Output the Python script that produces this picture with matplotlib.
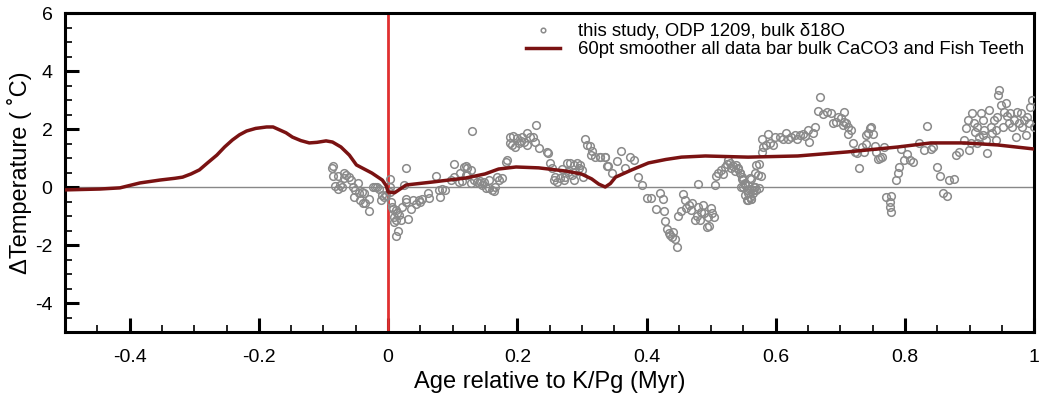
import matplotlib.pyplot as plt
from matplotlib.ticker import MultipleLocator, FuncFormatter

plt.rcParams['font.family'] = ['Liberation Sans', 'DejaVu Sans']
plt.rcParams['axes.unicode_minus'] = False

# bulk d18O based temperature anomaly, ODP 1209
age_pts = [
    -0.085, -0.087, -0.086, -0.078, -0.069, -0.065, -0.061, -0.058, -0.068, -0.082,
    -0.078, -0.075, -0.071, -0.055, -0.051, -0.047, -0.052, -0.045, -0.041, -0.037,
    -0.044, -0.036, -0.030, -0.029, -0.039, -0.024, -0.020, -0.017, -0.014, -0.009,
    -0.011, -0.006, -0.004, 0.003, 0.003, 0.003,
    0.004, 0.006, 0.008, 0.012, 0.014, 0.009, 0.017, 0.012, 0.020, 0.009,
    0.016, 0.013, 0.022, 0.027, 0.028, 0.035, 0.039, 0.043, 0.048, 0.050,
    0.053, 0.061, 0.063, 0.031, 0.025, 0.028, 0.074, 0.079, 0.084, 0.088,
    0.081, 0.102, 0.120, 0.122, 0.115, 0.102, 0.097,
    0.130, 0.229, 0.188, 0.194, 0.200, 0.205, 0.192, 0.202, 0.210, 0.215,
    0.220, 0.225, 0.228, 0.215, 0.233, 0.197, 0.207, 0.189, 0.246, 0.248,
    0.184, 0.182, 0.251, 0.254, 0.269, 0.277, 0.282, 0.287, 0.292, 0.297,
    0.295, 0.300, 0.290, 0.279, 0.284, 0.274, 0.266, 0.259, 0.256, 0.261,
    0.272, 0.287, 0.302, 0.305, 0.308, 0.313, 0.315, 0.314, 0.320, 0.328,
    0.335, 0.338, 0.117, 0.122, 0.128, 0.112, 0.120, 0.133, 0.138, 0.143,
    0.148, 0.156, 0.140, 0.146, 0.151, 0.156, 0.161, 0.164, 0.166, 0.128,
    0.110, 0.169, 0.171, 0.176,
    0.328, 0.335, 0.341, 0.347, 0.354, 0.361, 0.367, 0.375, 0.380, 0.387,
    0.393, 0.400, 0.407, 0.414, 0.421, 0.425, 0.427, 0.429, 0.431, 0.434,
    0.436, 0.440, 0.444, 0.441, 0.447, 0.449, 0.453, 0.457, 0.460, 0.461,
    0.465, 0.469, 0.470, 0.475, 0.478, 0.483, 0.480, 0.488, 0.489, 0.485,
    0.493, 0.496, 0.495, 0.500, 0.502, 0.504, 0.480, 0.506, 0.508, 0.511,
    0.515, 0.519, 0.521, 0.524, 0.526, 0.529, 0.531, 0.534, 0.537, 0.539,
    0.542, 0.544, 0.547, 0.552, 0.555, 0.560, 0.562, 0.565, 0.568, 0.570,
    0.568, 0.557, 0.561, 0.552, 0.549,
    0.542, 0.544, 0.547, 0.549, 0.552, 0.546, 0.555, 0.557, 0.560, 0.556,
    0.562, 0.565, 0.567, 0.570, 0.574, 0.561, 0.573, 0.577, 0.574, 0.578,
    0.580, 0.579, 0.585, 0.591, 0.596, 0.588, 0.599, 0.606, 0.611, 0.616,
    0.619, 0.624, 0.629, 0.633, 0.637, 0.642, 0.645, 0.650, 0.652, 0.657,
    0.661, 0.665, 0.669, 0.673, 0.679, 0.685, 0.688, 0.693, 0.696, 0.701,
    0.705, 0.706, 0.709, 0.704, 0.711, 0.716, 0.712, 0.719, 0.722, 0.726,
    0.729, 0.733, 0.737, 0.740, 0.742, 0.745, 0.747, 0.750, 0.740, 0.753,
    0.755, 0.758, 0.762, 0.764, 0.768,
    0.771, 0.778, 0.776, 0.777, 0.779, 0.794, 0.803, 0.798, 0.807, 0.812,
    0.791, 0.789, 0.786, 0.834, 0.822, 0.829, 0.840, 0.844, 0.849, 0.854,
    0.868, 0.875, 0.858, 0.865, 0.879, 0.884, 0.897, 0.894, 0.899, 0.902,
    0.891, 0.907, 0.909, 0.912, 0.915, 0.917, 0.921, 0.922, 0.925, 0.927,
    0.930, 0.933, 0.935, 0.938, 0.940, 0.943, 0.946, 0.944, 0.948, 0.953,
    0.956, 0.958, 0.961, 0.963, 0.966, 0.969, 0.971, 0.974, 0.976, 0.979,
    0.981, 0.984, 0.987, 0.989, 0.992, 0.994, 0.997, 0.999, 0.904, 0.912,
    0.920, 0.951, 0.940,
]
dtemp_pts = [
    0.72, 0.64, 0.38, 0.38, 0.47, 0.41, 0.36, 0.24, 0.30, 0.03,
    -0.08, 0.07, 0.01, -0.01, -0.10, 0.13, -0.33, -0.22, -0.16, -0.22,
    -0.45, -0.54, -0.42, -0.82, -0.56, 0.01, 0.01, -0.01, -0.08, -0.28,
    -0.45, -0.33, -0.28, 0.26, 0.01, -0.16,
    -0.50, -0.68, -0.77, -0.79, -0.91, -1.02, -0.97, -1.14, -1.14, -1.20,
    -1.51, -1.69, -0.68, -0.50, -0.42, -0.77, -0.45, -0.59, -0.45, -0.50,
    -0.42, -0.20, -0.39, -1.11, 0.07, 0.64, 0.38, -0.10, -0.08, -0.10,
    -0.33, 0.79, 0.72, 0.41, 0.20, 0.33, 0.24,
    1.93, 2.14, 1.74, 1.76, 1.68, 1.60, 1.45, 1.51, 1.56, 1.85,
    1.71, 1.74, 1.56, 1.45, 1.33, 1.39, 1.74, 1.51, 1.22, 1.16,
    0.93, 0.87, 0.82, 0.66, 0.61, 0.84, 0.82, 0.76, 0.82, 0.76,
    0.64, 0.59, 0.53, 0.53, 0.41, 0.36, 0.30, 0.36, 0.24, 0.18,
    0.24, 0.24, 0.36, 1.64, 1.45, 1.41, 1.25, 1.10, 1.04, 1.04,
    1.04, 0.72, 0.70, 0.64, 0.59, 0.47, 0.41, 0.24, 0.18, 0.21,
    0.18, 0.24, 0.13, 0.07, -0.03, -0.03, -0.09, -0.14, -0.01, 0.13,
    0.18, 0.36, 0.24, 0.30,
    1.05, 1.05, 0.72, 0.49, 0.91, 1.24, 0.64, 1.02, 0.93, 0.33,
    0.07, -0.39, -0.39, -0.77, -0.22, -0.41, -0.82, -1.16, -1.46, -1.58,
    -1.66, -1.71, -1.80, -1.54, -2.06, -1.00, -0.82, -0.24, -0.45, -0.74,
    -0.62, -0.79, -0.54, -1.14, -1.00, -1.14, -0.68, -0.62, -0.91, -0.85,
    -1.39, -1.34, -1.05, -0.74, -0.91, -1.02, 0.10, 0.07, 0.38, 0.47,
    0.59, 0.45, 0.70, 0.79, 0.93, 0.82, 0.64, 0.72, 0.56, 0.76,
    0.61, 0.47, 0.27, 0.13, -0.10, 0.30, -0.08, -0.22, 0.47, 0.76,
    0.01, -0.45, -0.41, -0.28, 0.01,
    0.64, 0.47, 0.33, 0.24, 0.07, 0.01, -0.10, -0.22, -0.33, -0.45,
    -0.42, -0.10, 0.01, -0.10, -0.05, 0.27, 0.41, 0.38, 0.79, 1.22,
    1.39, 1.64, 1.45, 1.51, 1.45, 1.83, 1.73, 1.73, 1.64, 1.87,
    1.64, 1.73, 1.79, 1.64, 1.79, 1.83, 1.76, 1.97, 1.56, 1.87,
    2.08, 2.63, 3.11, 2.52, 2.60, 2.56, 2.20, 2.25, 2.42, 2.37,
    2.60, 2.25, 2.20, 2.14, 2.06, 1.97, 1.83, 1.51, 1.22, 1.16,
    0.67, 1.39, 1.22, 1.48, 1.85, 2.02, 2.06, 1.83, 1.79, 1.41,
    1.22, 0.96, 0.99, 1.04, 1.39,
    -0.33, -0.31, -0.51, -0.68, -0.85, 1.30, 1.14, 0.93, 0.93, 0.87,
    0.70, 0.47, 0.24, 2.10, 1.51, 1.28, 1.30, 1.39, 0.70, 0.38,
    0.24, 0.27, -0.22, -0.31, 1.10, 1.22, 2.31, 2.02, 1.28, 1.51,
    1.62, 2.20, 1.91, 2.08, 1.73, 2.54, 2.31, 1.97, 1.62, 1.16,
    2.66, 2.08, 1.85, 2.31, 1.97, 2.42, 3.34, 3.17, 2.83, 2.60,
    2.89, 2.45, 2.20, 2.54, 2.08, 2.31, 1.73, 2.60, 2.20, 2.54,
    2.08, 2.31, 1.79, 2.42, 2.20, 2.77, 3.00, 2.08, 2.54, 1.51,
    1.79, 2.08, 1.62,
]

# 60pt smoother (all data bar bulk CaCO3 and fish teeth)
age_smooth = [
    -0.500, -0.446, -0.415, -0.384, -0.353, -0.330, -0.318, -0.305, -0.292, -0.280,
    -0.265, -0.253, -0.241, -0.230, -0.219, -0.205, -0.188, -0.178, -0.168, -0.158,
    -0.148, -0.135, -0.122, -0.110, -0.096, -0.086, -0.073, -0.060, -0.049, -0.037,
    -0.025, -0.009, -0.003, 0.000, 0.010, 0.028, 0.068, 0.120, 0.150, 0.171,
    0.198, 0.233, 0.275, 0.299, 0.315, 0.326, 0.336, 0.344, 0.352, 0.377,
    0.403, 0.430, 0.454, 0.491, 0.557, 0.634, 0.711, 0.789, 0.840, 0.892,
    0.943, 1.000,
]
dtemp_smooth = [
    -0.10, -0.07, -0.03, 0.14, 0.24, 0.30, 0.34, 0.45, 0.59, 0.82,
    1.10, 1.38, 1.62, 1.80, 1.93, 2.02, 2.07, 2.07, 1.97, 1.87,
    1.72, 1.60, 1.52, 1.54, 1.59, 1.55, 1.38, 1.10, 0.76, 0.62,
    0.48, 0.24, 0.05, -0.17, -0.20, 0.07, 0.17, 0.31, 0.45, 0.62,
    0.69, 0.66, 0.55, 0.45, 0.28, 0.10, 0.00, 0.12, 0.34, 0.59,
    0.83, 0.95, 1.03, 1.07, 1.03, 1.07, 1.21, 1.38, 1.52, 1.52,
    1.45, 1.31,
]

fig = plt.figure(figsize=(10.4, 4), dpi=100)
ax = fig.add_axes([0.0625, 0.17, 0.932, 0.7975])

ax.axhline(0, color='#888888', lw=1, zorder=1)
ax.axvline(0, color='#e03030', lw=2, zorder=2)

ax.plot(age_pts, dtemp_pts, 'o', mfc='none', mec='#8a8a8a', ms=5.5, mew=1.1,
        label='this study, ODP 1209, bulk δ18O', zorder=3)
ax.plot(age_smooth, dtemp_smooth, color='#7a1212', lw=2.5,
        label='60pt smoother all data bar bulk CaCO3 and Fish Teeth', zorder=4)

ax.set_xlim(-0.5, 1.0)
ax.set_ylim(-5, 6)
ax.xaxis.set_major_locator(MultipleLocator(0.2))
ax.xaxis.set_minor_locator(MultipleLocator(0.05))
ax.yaxis.set_major_locator(MultipleLocator(2))
ax.yaxis.set_minor_locator(MultipleLocator(0.5))
ax.xaxis.set_major_formatter(FuncFormatter(lambda v, p: '%g' % round(v, 2)))
ax.tick_params(which='major', direction='in', length=10, width=2.2, labelsize=14)
ax.tick_params(axis='x', which='major', pad=12)
ax.tick_params(axis='y', which='major', pad=9)
ax.tick_params(which='minor', direction='in', length=5, width=1.2)
for s in ax.spines.values():
    s.set_linewidth(2.2)

ax.set_xlabel('Age relative to K/Pg (Myr)', fontsize=17, labelpad=4)
ax.set_ylabel('ΔTemperature ( ˚C)', fontsize=17, labelpad=2)

leg = ax.legend(loc='upper right', fontsize=13.3, frameon=False,
                borderaxespad=0.35, handlelength=1.8, handletextpad=1.0,
                labelspacing=0.05, borderpad=0.2, markerscale=0.6)

fig.savefig('out.png', dpi=100)
